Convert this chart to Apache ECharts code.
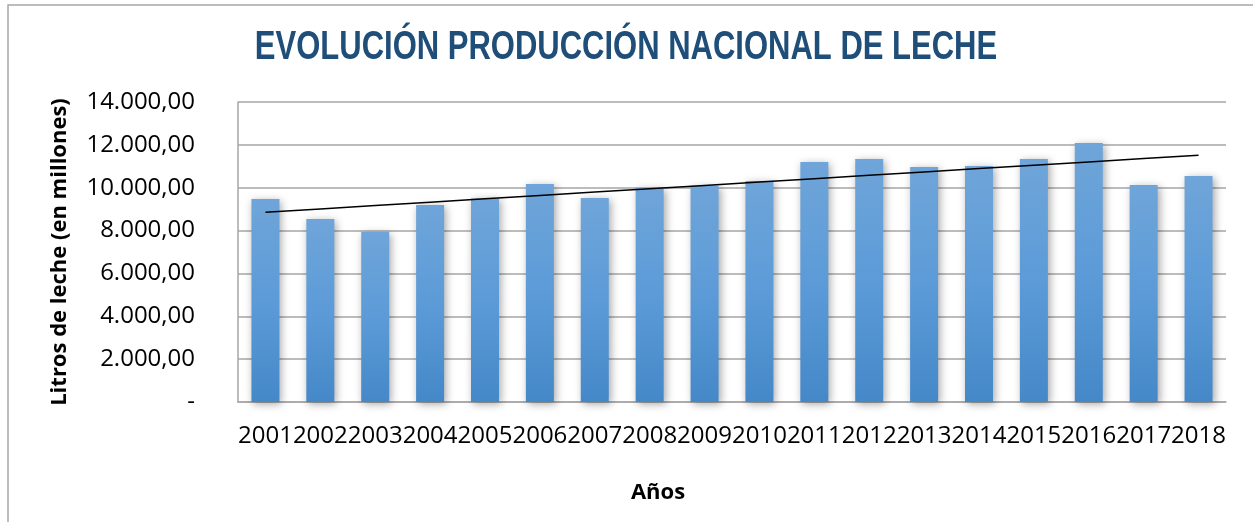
<!DOCTYPE html>
<html>
<head>
<meta charset="utf-8">
<script src="https://cdn.jsdelivr.net/npm/echarts@6/dist/echarts.min.js"></script>
<style>
  html, body { margin: 0; padding: 0; background: #fff; }
  #chart { width: 1253px; height: 522px; }
</style>
</head>
<body>
<div id="chart"></div>
<script>
// years on the x axis
var years = ['2001','2002','2003','2004','2005','2006','2007','2008','2009',
             '2010','2011','2012','2013','2014','2015','2016','2017','2018'];
// milk production, millions of litres
var produccion = [9470, 8540, 7950, 9190, 9500, 10170, 9520, 9990, 10090,
                  10310, 11200, 11340, 10970, 11010, 11340, 12090, 10130, 10550];

// linear trend (like the Excel trendline), least squares over the bars
function tendencia(vals) {
    var n = vals.length, sx = 0, sy = 0, sxy = 0, sxx = 0;
    for (var i = 0; i < n; i++) {
        sx += i; sy += vals[i]; sxy += i * vals[i]; sxx += i * i;
    }
    var b = (n * sxy - sx * sy) / (n * sxx - sx * sx);
    var a = (sy - b * sx) / n;
    return vals.map(function (v, i) { return a + b * i; });
}

function formatoMiles(v) {
    if (v === 0) return '-';
    var s = Math.round(v).toString().replace(/\B(?=(\d{3})+(?!\d))/g, '.');
    return s + ',00';
}

var myChart = echarts.init(document.getElementById('chart'));

var option = {
    backgroundColor: '#fff',
    animation: false,
    graphic: [
        {
            // outer chart frame (only top and left are visible in the crop)
            type: 'rect',
            shape: { x: 8, y: 5, width: 1300, height: 600 },
            style: { fill: 'none', stroke: '#A6A6A6', lineWidth: 1.5 },
            silent: true
        },
        {
            // title, squeezed horizontally to look like a narrow bold face
            type: 'text',
            x: 626,
            y: 48,
            scaleX: 0.775,
            style: {
                text: 'EVOLUCIÓN PRODUCCIÓN NACIONAL DE LECHE',
                fontFamily: '"Liberation Sans", Arial, sans-serif',
                fontWeight: 'bold',
                fontSize: 40,
                fill: '#1F4E79',
                textAlign: 'center',
                textVerticalAlign: 'middle'
            },
            silent: true
        }
    ],
    grid: { left: 238, right: 27, top: 102, bottom: 120 },
    xAxis: {
        type: 'category',
        data: years,
        name: 'Años',
        nameLocation: 'middle',
        nameGap: 80,
        nameTextStyle: {
            fontFamily: '"Open Sans", sans-serif',
            fontWeight: 'bold',
            fontSize: 22,
            color: '#000',
            padding: [0, 148, 0, 0]
        },
        axisLine: { lineStyle: { color: '#A6A6A6', width: 1.5 } },
        axisTick: { show: false },
        axisLabel: {
            interval: 0,
            margin: 22,
            fontFamily: '"Open Sans", sans-serif',
            fontSize: 24,
            color: '#000'
        }
    },
    yAxis: {
        type: 'value',
        min: 0,
        max: 14000,
        interval: 2000,
        name: 'Litros de leche (en millones)',
        nameLocation: 'middle',
        nameGap: 167,
        nameTextStyle: {
            fontFamily: '"Open Sans", sans-serif',
            fontWeight: 'bold',
            fontSize: 22,
            color: '#000'
        },
        axisLine: { show: true, lineStyle: { color: '#A6A6A6', width: 1.5 } },
        axisTick: { show: false },
        splitLine: { lineStyle: { color: '#A6A6A6', width: 1.5 } },
        axisLabel: {
            margin: 43,
            fontFamily: '"Open Sans", sans-serif',
            fontSize: 24,
            color: '#000',
            formatter: formatoMiles
        }
    },
    series: [
        {
            name: 'Producción',
            type: 'bar',
            data: produccion,
            barWidth: 28,
            itemStyle: {
                color: new echarts.graphic.LinearGradient(0, 0, 0, 1, [
                    { offset: 0, color: '#6FA5D9' },
                    { offset: 0.5, color: '#5C9BD8' },
                    { offset: 1, color: '#4588C8' }
                ]),
                shadowBlur: 8,
                shadowOffsetX: 2,
                shadowOffsetY: 2,
                shadowColor: 'rgba(0,0,0,0.35)'
            }
        },
        {
            name: 'Tendencia',
            type: 'line',
            data: tendencia(produccion),
            symbol: 'none',
            z: 5,
            lineStyle: { color: '#000', width: 1.5 }
        }
    ]
};

myChart.setOption(option);
</script>
</body>
</html>
